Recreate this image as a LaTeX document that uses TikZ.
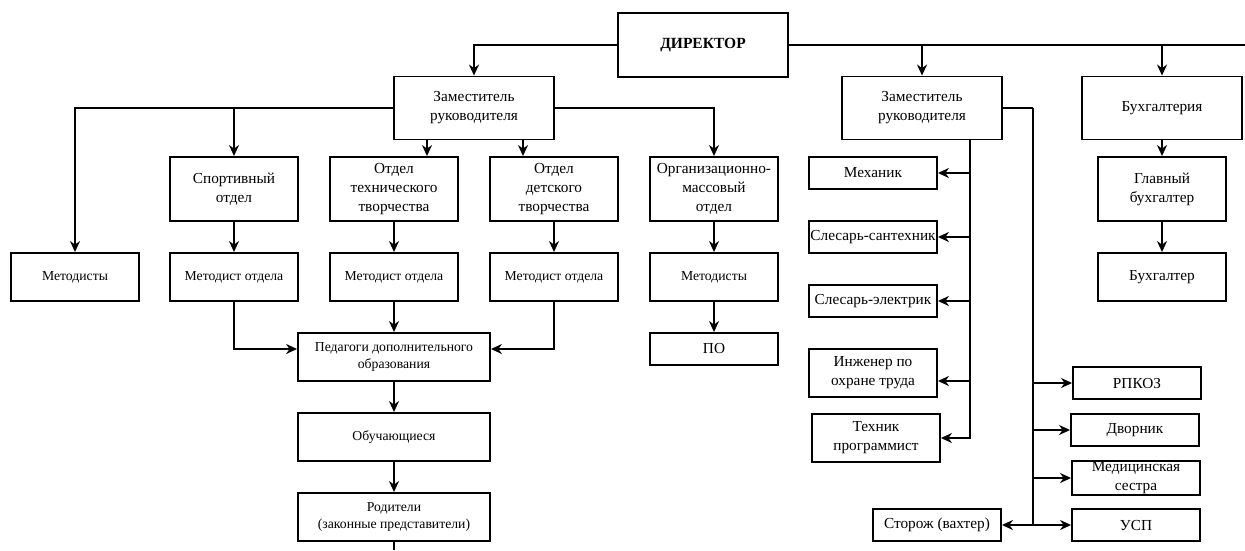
\documentclass[tikz,border=0pt]{standalone}
\usepackage{fontspec}
\setmainfont{Liberation Serif}
\usetikzlibrary{arrows.meta}

\begin{document}
\begin{tikzpicture}[x=1pt,y=-1pt,line width=1.9pt,>={Stealth[length=11pt,width=10pt]},
    every node/.style={draw, rectangle, black, align=center, inner sep=1pt, font=\fontsize{15.3}{19}\selectfont},
    small/.style={font=\fontsize{13.7}{17}\selectfont},
    wide/.style={minimum width=160pt, minimum height=63pt},
    tall/.style={minimum width=128pt, minimum height=64pt},
    mid/.style={minimum width=128pt, minimum height=48pt},
    flat/.style={minimum width=128pt, minimum height=32pt}]
    \useasboundingbox (0,0) rectangle (1245,550);
    \node[minimum width=170pt, minimum height=64pt, font=\fontsize{15.5}{19}\selectfont\bfseries] (0) at (703,45) {ДИРЕКТОР};
    \node[wide] (1) at (474,108) {Заместитель\\руководителя};
    \node[mid, small] (2) at (75,277) {Методисты};
    \node[tall] (3) at (234,189) {Спортивный\\отдел};
    \node[tall] (4) at (394,189) {Отдел\\технического\\творчества};
    \node[tall] (5) at (554,189) {Отдел\\детского\\творчества};
    \node[tall] (6) at (714,189) {Организационно-\\массовый\\отдел};
    \node[mid, small] (7) at (234,277) {Методист отдела};
    \node[mid, small] (8) at (394,277) {Методист отдела};
    \node[mid, small] (9) at (554,277) {Методист отдела};
    \node[mid, small] (10) at (714,277) {Методисты};
    \node[flat] (11) at (714,349) {ПО};
    \node[mid, small, minimum width=192pt] (12) at (394,357) {Педагоги дополнительного\\образования};
    \node[mid, small, minimum width=192pt] (13) at (394,437) {Обучающиеся};
    \node[mid, small, minimum width=192pt] (14) at (394,517) {Родители\\(законные представители)};
    \node[wide] (15) at (922,108) {Заместитель\\руководителя};
    \node[wide] (16) at (1162,108) {Бухгалтерия};
    \node[tall] (17) at (1162,189) {Главный\\бухгалтер};
    \node[mid] (18) at (1162,277) {Бухгалтер};
    \node[flat] (19) at (873,173) {Механик};
    \node[flat] (20) at (873,237) {Слесарь-сантехник};
    \node[flat] (21) at (873,301) {Слесарь-электрик};
    \node[mid] (22) at (873,373) {Инженер по\\охране труда};
    \node[mid] (23) at (876,438) {Техник\\программист};
    \node[flat] (24) at (1137,383) {РПКОЗ};
    \node[flat] (25) at (1135,430) {Дворник};
    \node[flat] (26) at (1136,478) {Медицинская\\сестра};
    \node[flat] (27) at (1136,525) {УСП};
    \node[flat] (28) at (937,525) {Сторож (вахтер)};
    \coordinate (e) at (1245,45);
    \coordinate (f) at (394,550);
    \coordinate (b) at (1033,108);

    \draw[->] (0.west) -| (1.north);
    \draw[->] (1.west) -| (2.north);
    \draw[->] (1.west) -| (3.north);
    \draw[->] ([xshift=-47pt]1.south) -- ([xshift=33pt]4.north);
    \draw[->] ([xshift=49pt]1.south) -- ([xshift=-31pt]5.north);
    \draw[->] (1.east) -| (6.north);
    \draw[->] (3) -- (7);
    \draw[->] (4) -- (8);
    \draw[->] (5) -- (9);
    \draw[->] (6) -- (10);
    \draw[->] (10) -- (11);
    \draw[->] (7.south) |- ([yshift=8pt]12.west);
    \draw[->] (9.south) |- ([yshift=8pt]12.east);
    \draw[->] (8) -- (12);
    \draw[->] (12) -- (13);
    \draw[->] (13) -- (14);
    \draw (14) -- (f);

    \draw (0.east) -- (e);
    \draw[->] (0.east) -| (15.north);
    \draw[->] (0.east) -| (16.north);
    \draw[->] (16) -- (17);
    \draw[->] (17) -- (18);
    \draw[->] ([xshift=48pt]15.south) |- (19.east);
    \draw[->] ([xshift=48pt]15.south) |- (20.east);
    \draw[->] ([xshift=48pt]15.south) |- (21.east);
    \draw[->] ([xshift=48pt]15.south) |- ([yshift=-8pt]22.east);
    \draw[->] ([xshift=48pt]15.south) |- (23.east);
    \draw (15.east) -- (b);
    \draw[->] (b) |- (24.west);
    \draw[->] (b) |- (25.west);
    \draw[->] (b) |- (26.west);
    \draw[->] (b) |- (27.west);
    \draw[->] (b) |- (28.east);
  \end{tikzpicture}
\end{document}
